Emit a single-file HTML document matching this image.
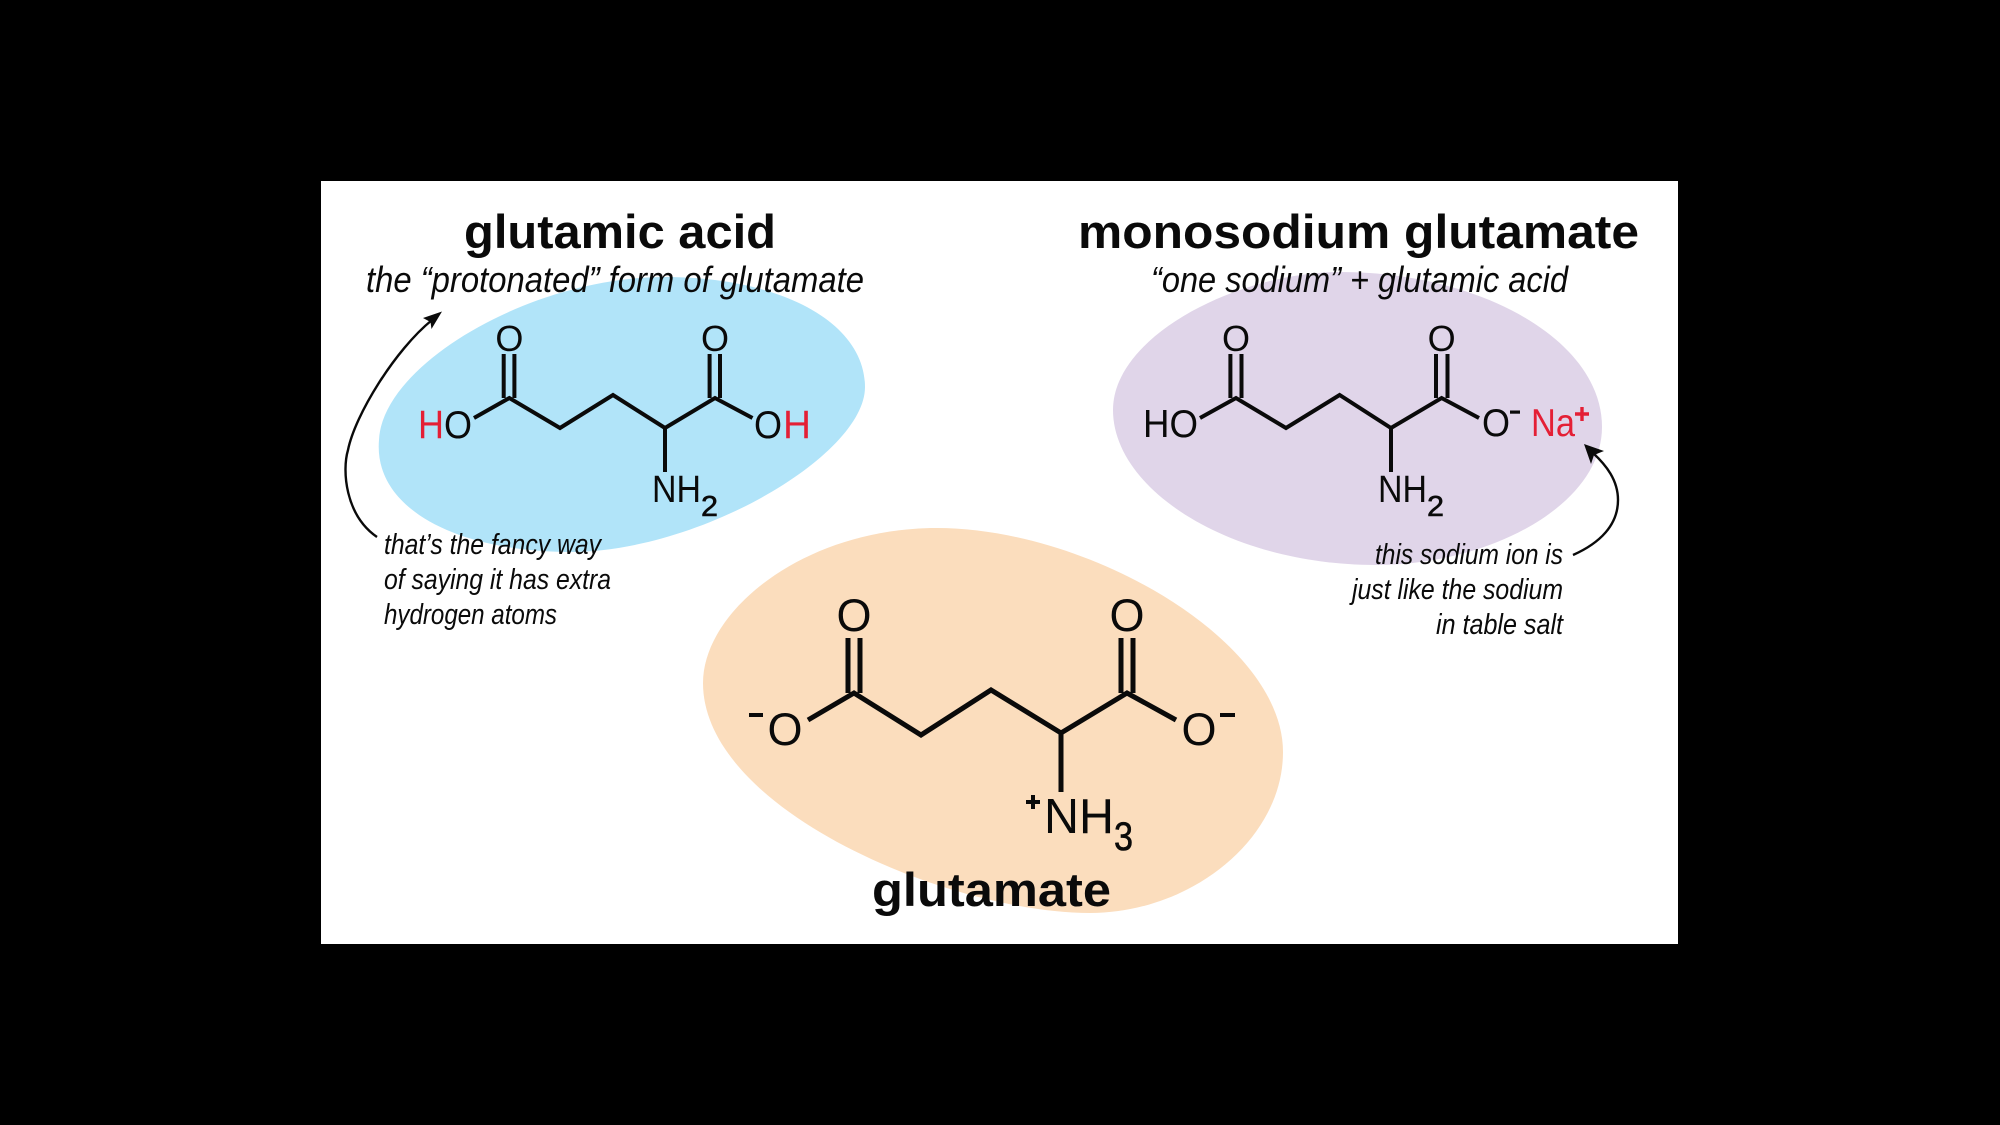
<!DOCTYPE html>
<html>
<head>
<meta charset="utf-8">
<style>
html,body{margin:0;padding:0;background:#000;width:2000px;height:1125px;overflow:hidden}
svg{display:block}
text{font-family:"Liberation Sans",sans-serif;fill:#0a0a0a}
.h{font-weight:700;font-size:47px}
.s{font-style:italic;font-size:36px}
.n{font-style:italic;font-size:29px}
.r{fill:#e41f35}
.b{fill:none;stroke:#0a0a0a;stroke-width:4;stroke-linejoin:miter}
.b3{fill:none;stroke:#0a0a0a;stroke-width:5;stroke-linejoin:miter}
.a{fill:none;stroke:#0a0a0a;stroke-width:2.4}
</style>
</head>
<body>
<svg width="2000" height="1125" viewBox="0 0 2000 1125" xmlns="http://www.w3.org/2000/svg">
<rect width="2000" height="1125" fill="#000"/>
<rect x="321" y="181" width="1357" height="763" fill="#fff"/>

<!-- blobs -->
<path d="M379 440 C382 365 530 277 665 277 C780 277 865 322 865 387 C865 455 700 552 570 552 C460 552 373 510 379 440Z" fill="#b1e4f9"/>
<path d="M1113 410 C1113 335 1240 272 1340 272 C1480 272 1602 340 1602 427 C1602 505 1490 565 1376 565 C1230 565 1113 490 1113 410Z" fill="#e0d5e9"/>
<path d="M703 683 C703 610 805 528 937 528 C1088 528 1283 640 1283 752 C1283 840 1190 913 1090 913 C950 913 703 810 703 683Z" fill="#fbddbd"/>

<!-- headings -->
<text class="h" x="464" y="248" textLength="312" lengthAdjust="spacingAndGlyphs">glutamic acid</text>
<text class="h" x="1078" y="248" textLength="561" lengthAdjust="spacingAndGlyphs">monosodium glutamate</text>
<text class="h" x="872" y="906" textLength="239" lengthAdjust="spacingAndGlyphs">glutamate</text>
<text class="s" x="366" y="292" textLength="498" lengthAdjust="spacingAndGlyphs">the “protonated” form of glutamate</text>
<text class="s" x="1151" y="292" textLength="417" lengthAdjust="spacingAndGlyphs">“one sodium” + glutamic acid</text>

<!-- notes -->
<text class="n" x="384" y="554" textLength="217" lengthAdjust="spacingAndGlyphs">that’s the fancy way</text>
<text class="n" x="384" y="589" textLength="227" lengthAdjust="spacingAndGlyphs">of saying it has extra</text>
<text class="n" x="384" y="624" textLength="173" lengthAdjust="spacingAndGlyphs">hydrogen atoms</text>
<text class="n" x="1375" y="564" textLength="188" lengthAdjust="spacingAndGlyphs">this sodium ion is</text>
<text class="n" x="1352" y="599" textLength="211" lengthAdjust="spacingAndGlyphs">just like the sodium</text>
<text class="n" x="1436" y="634" textLength="127" lengthAdjust="spacingAndGlyphs">in table salt</text>

<!-- arrows -->
<path class="a" d="M377 537 C345 515 342 470 348 450 C355 415 395 350 432 320"/>
<polygon points="442,311.5 423,318 430.5,322 431.5,329" fill="#0a0a0a"/>
<path class="a" d="M1573 555 C1600 543 1618 525 1618 500 C1618 480 1606 465 1593 453"/>
<polygon points="1584,444 1604,451 1594,455 1591,464" fill="#0a0a0a"/>

<!-- molecule 1 -->
<path class="b" d="M474 418 L509.4 398 L560 428 L613 395 L665 428 L715 398 L752.5 418"/>
<path class="b" d="M665 428 V472 M503.7 354 V398 M514.4 354 V398 M709.6 354 V398 M720 354 V398"/>
<text x="509.4" y="351" font-size="36" text-anchor="middle">O</text>
<text x="715" y="351" font-size="36" text-anchor="middle">O</text>
<text class="r" x="418" y="438" font-size="40" textLength="26" lengthAdjust="spacingAndGlyphs">H</text>
<text x="444" y="438" font-size="39" textLength="28" lengthAdjust="spacingAndGlyphs">O</text>
<text x="754" y="438" font-size="39" textLength="28" lengthAdjust="spacingAndGlyphs">O</text>
<text class="r" x="783" y="438" font-size="40" textLength="28" lengthAdjust="spacingAndGlyphs">H</text>
<text x="652" y="502" font-size="38" textLength="49" lengthAdjust="spacingAndGlyphs">NH</text>
<text x="701" y="516" font-size="29" textLength="17" lengthAdjust="spacingAndGlyphs" stroke="#0a0a0a" stroke-width=".6">2</text>

<!-- molecule 2 -->
<path class="b" d="M1200 418 L1236 398 L1286 428 L1339.6 395 L1391 428 L1441.6 398 L1479 418"/>
<path class="b" d="M1391 428 V472 M1230.4 354 V398 M1241.5 354 V398 M1436 354 V398 M1447.5 354 V398"/>
<text x="1236" y="351" font-size="36" text-anchor="middle">O</text>
<text x="1441.6" y="351" font-size="36" text-anchor="middle">O</text>
<text x="1143" y="437" font-size="39" textLength="55" lengthAdjust="spacingAndGlyphs">HO</text>
<text x="1482" y="436" font-size="39" textLength="28" lengthAdjust="spacingAndGlyphs">O</text>
<rect x="1510" y="410.5" width="10" height="3.2" fill="#0a0a0a"/>
<text class="r" x="1531" y="436" font-size="39" textLength="44" lengthAdjust="spacingAndGlyphs">Na</text>
<path d="M1582 407 V421 M1575 414 H1589" stroke="#e41f35" stroke-width="3.4" fill="none"/>
<text x="1378" y="502" font-size="38" textLength="49" lengthAdjust="spacingAndGlyphs">NH</text>
<text x="1427" y="516" font-size="29" textLength="17" lengthAdjust="spacingAndGlyphs" stroke="#0a0a0a" stroke-width=".6">2</text>

<!-- molecule 3 -->
<path class="b3" d="M808 720 L854 693 L921 735 L991 690 L1061 733 L1127 693 L1176 720"/>
<path class="b3" d="M1061 733 V792 M848 638 V693 M860 638 V693 M1121 638 V693 M1133 638 V693"/>
<text x="854" y="631" font-size="45" text-anchor="middle">O</text>
<text x="1127" y="631" font-size="45" text-anchor="middle">O</text>
<text x="785" y="745" font-size="45" text-anchor="middle">O</text>
<text x="1199" y="745" font-size="45" text-anchor="middle">O</text>
<rect x="749" y="713" width="14" height="4" fill="#0a0a0a"/>
<rect x="1220" y="713" width="15" height="4" fill="#0a0a0a"/>
<path d="M1033 795 V809 M1026 802 H1040" stroke="#0a0a0a" stroke-width="4" fill="none"/>
<text x="1044" y="833" font-size="49" textLength="70" lengthAdjust="spacingAndGlyphs">NH</text>
<text x="1114" y="850" font-size="40" textLength="19" lengthAdjust="spacingAndGlyphs" stroke="#0a0a0a" stroke-width=".6">3</text>
</svg>
</body>
</html>
